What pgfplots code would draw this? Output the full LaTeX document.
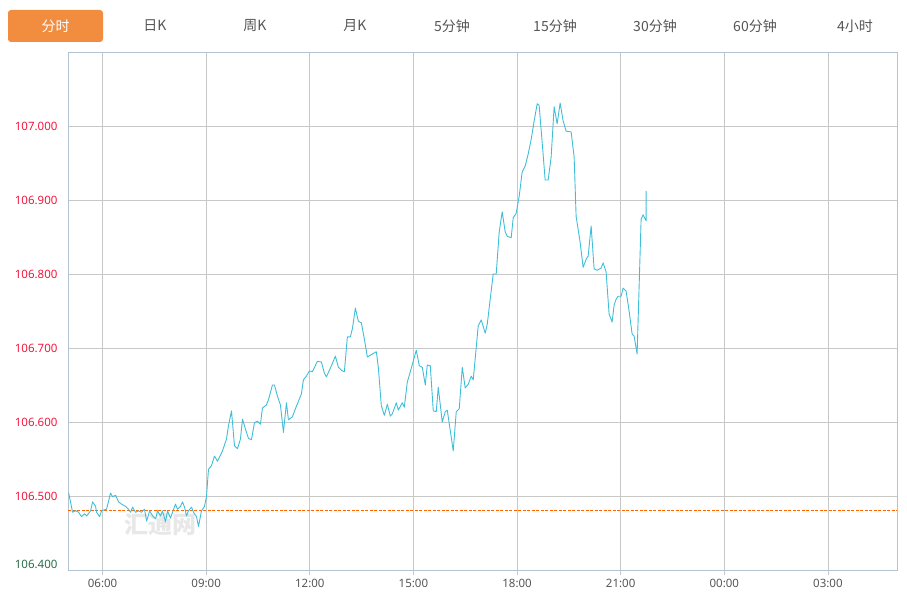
\documentclass[border=0pt]{standalone}
\usepackage{fontspec}
\setmainfont{Noto Sans}
\newfontfamily\cjk{Noto Sans CJK SC}
\usepackage{pgfplots}
\pgfplotsset{compat=1.18}
\definecolor{lineC}{RGB}{62,190,216}
\definecolor{tabO}{RGB}{242,140,62}
\definecolor{redL}{RGB}{245,20,60}
\definecolor{grnL}{RGB}{40,110,70}
\definecolor{gridC}{RGB}{200,200,200}
\definecolor{axC}{RGB}{180,194,210}
\definecolor{txtC}{RGB}{85,85,85}
\definecolor{closeC}{RGB}{255,102,0}
\begin{document}
\begin{tikzpicture}
\path[use as bounding box] (0pt,0pt) rectangle (907pt,592pt);
\fill[tabO, rounded corners=3pt] (8pt,550pt) rectangle (103pt,582pt);
\node[white, font=\cjk\fontsize{14}{16}\selectfont] at (55.5pt,566pt) {分时};
\foreach \x/\t in {155/日K,255/周K,355/月K,452/5分钟,555/15分钟,655/30分钟,755/60分钟,855/4小时}
  \node[txtC, font=\cjk\fontsize{14}{16}\selectfont] at (\x pt,566pt) {\t};
\node[gray!18, font=\cjk\bfseries\fontsize{24}{26}\selectfont] at (160pt,67pt) {汇通网};
\begin{axis}[
  at={(68pt,22pt)}, anchor=south west, scale only axis,
  width=829pt, height=518pt,
  xmin=5, xmax=29, ymin=106.4, ymax=107.1,
  axis line style={axC, line width=0.8pt},
  xtick={6,9,12,15,18,21,24,27},
  xticklabels={06:00,09:00,12:00,15:00,18:00,21:00,00:00,03:00},
  ytick={106.4,106.5,106.6,106.7,106.8,106.9,107.0},
  yticklabels={\raisebox{12pt}{\textcolor{grnL}{106.400}},\textcolor{redL}{106.500},\textcolor{redL}{106.600},\textcolor{redL}{106.700},\textcolor{redL}{106.800},\textcolor{redL}{106.900},\textcolor{redL}{107.000}},
  xmajorgrids, ymajorgrids,
  grid style={gridC, line width=0.8pt},
  xtick pos=bottom, ytick pos=left,
  xtick style={gridC, line width=0.8pt},
  ytick style={draw=none},
  tick align=outside,
  major tick length=5pt,
  xticklabel style={txtC, font=\fontsize{11.5}{13}\selectfont, yshift=-1pt},
  yticklabel style={font=\fontsize{11.5}{13}\selectfont, xshift=-2pt},
  clip=true,
]
\addplot[closeC, line width=0.7pt, dash pattern=on 3pt off 1.5pt] coordinates {(5,106.48) (29,106.48)};
\addplot[lineC, line width=0.9pt, line join=round] coordinates {
(5.02,106.504) (5.133,106.478) (5.220,106.480) (5.307,106.478) (5.393,106.472) (5.480,106.476) (5.538,106.473) (5.654,106.480) (5.712,106.492) (5.798,106.486) (5.827,106.478) (5.914,106.472) (5.972,106.480) (6.030,106.481) (6.116,106.482) (6.232,106.504) (6.290,106.499) (6.377,106.501) (6.464,106.492) (6.550,106.489) (6.666,106.486) (6.754,106.482) (6.811,106.478) (6.869,106.485) (6.956,106.478) (7.042,106.480) (7.129,106.478) (7.216,106.482) (7.277,106.466) (7.364,106.480) (7.451,106.473) (7.538,106.469) (7.592,106.480) (7.679,106.473) (7.736,106.480) (7.823,106.465) (7.881,106.480) (7.968,106.470) (8.026,106.478) (8.112,106.489) (8.170,106.482) (8.257,106.486) (8.315,106.492) (8.373,106.485) (8.431,106.473) (8.489,106.480) (8.575,106.485) (8.633,106.478) (8.720,106.472) (8.778,106.459) (8.865,106.480) (8.951,106.486) (9.009,106.499) (9.067,106.536) (9.154,106.541) (9.241,106.554) (9.328,106.547) (9.414,106.555) (9.472,106.561) (9.588,106.577) (9.646,106.595) (9.733,106.615) (9.820,106.568) (9.906,106.564) (9.993,106.577) (10.051,106.604) (10.167,106.586) (10.224,106.578) (10.311,106.576) (10.398,106.599) (10.485,106.601) (10.571,106.597) (10.629,106.619) (10.745,106.623) (10.803,106.630) (10.919,106.650) (10.977,106.650) (11.063,106.635) (11.150,106.623) (11.237,106.586) (11.324,106.626) (11.381,106.603) (11.497,106.607) (11.584,106.618) (11.671,106.628) (11.757,106.638) (11.815,106.657) (11.902,106.662) (11.989,106.669) (12.076,106.668) (12.220,106.682) (12.336,106.681) (12.423,106.666) (12.481,106.661) (12.625,106.676) (12.741,106.689) (12.827,106.674) (12.943,106.669) (13.001,106.668) (13.088,106.715) (13.175,106.715) (13.233,106.726) (13.319,106.754) (13.406,106.736) (13.493,106.734) (13.580,106.712) (13.666,106.688) (13.782,106.691) (13.927,106.695) (13.984,106.674) (14.071,106.622) (14.158,106.609) (14.245,106.624) (14.331,106.608) (14.389,106.611) (14.505,106.626) (14.563,106.616) (14.678,106.626) (14.736,106.620) (14.823,106.654) (14.910,106.668) (15.083,106.697) (15.170,106.676) (15.257,106.674) (15.344,106.650) (15.401,106.677) (15.488,106.676) (15.575,106.615) (15.661,106.614) (15.719,106.647) (15.835,106.600) (15.922,106.614) (15.980,106.616) (16.153,106.561) (16.240,106.614) (16.327,106.618) (16.414,106.674) (16.500,106.646) (16.587,106.651) (16.674,106.662) (16.732,106.657) (16.876,106.730) (16.963,106.738) (17.079,106.720) (17.137,106.732) (17.310,106.800) (17.397,106.800) (17.484,106.857) (17.570,106.884) (17.657,106.857) (17.715,106.851) (17.831,106.849) (17.889,106.876) (17.975,106.882) (18.062,106.905) (18.149,106.938) (18.236,106.946) (18.322,106.962) (18.409,106.982) (18.496,107.007) (18.583,107.030) (18.640,107.028) (18.727,106.978) (18.814,106.927) (18.901,106.927) (18.987,106.958) (19.074,107.026) (19.161,107.003) (19.248,107.031) (19.334,107.007) (19.421,106.993) (19.566,106.992) (19.653,106.958) (19.710,106.878) (19.826,106.843) (19.913,106.809) (20.000,106.820) (20.058,106.824) (20.145,106.865) (20.231,106.807) (20.318,106.805) (20.434,106.808) (20.492,106.815) (20.578,106.803) (20.665,106.746) (20.752,106.735) (20.810,106.758) (20.868,106.766) (20.926,106.770) (21.013,106.770) (21.071,106.781) (21.157,106.777) (21.244,106.750) (21.331,106.719) (21.389,106.716) (21.476,106.692) (21.592,106.874) (21.650,106.880) (21.736,106.872) (21.736,106.912)
};
\end{axis}
\end{tikzpicture}
\end{document}
